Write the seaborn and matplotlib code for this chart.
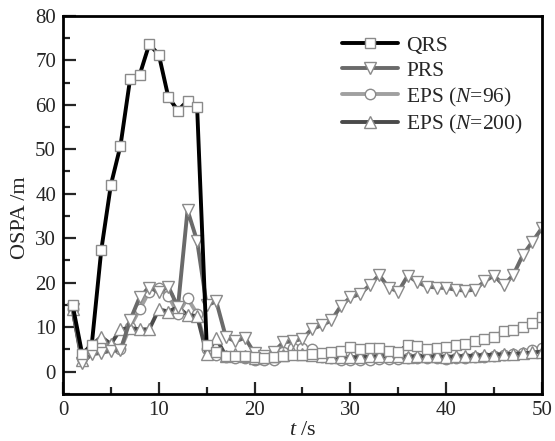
import numpy as np
import pandas as pd
import matplotlib
matplotlib.use("Agg")
import matplotlib.pyplot as plt
import seaborn as sns
from matplotlib.ticker import MultipleLocator

t = list(range(1, 51))
qrs = [15, 4, 6, 27.4, 42, 50.8, 65.7, 66.7, 73.6, 71.3,
       61.7, 58.7, 60.9, 59.6, 6, 4.5, 3.5, 3.5, 3.5, 3.2,
       3.0, 3.2, 3.5, 3.8, 3.8, 4.0, 4.2, 4.3, 4.7, 5.5,
       5.0, 5.2, 5.2, 4.7, 4.4, 6.0, 5.7, 5.0, 5.3, 5.6,
       5.9, 6.1, 6.8, 7.4, 7.8, 9.1, 9.4, 10.0, 10.9, 12.2]
prs = [14, 2, 3.9, 4.2, 4.7, 4.8, 11.5, 16.7, 18.9, 17.9,
       19.1, 14.5, 36.3, 29.4, 14.9, 15.8, 7.8, 6.8, 7.6, 4.1,
       3.5, 4.4, 6.6, 6.8, 7.4, 9.6, 10.4, 11.5, 14.7, 16.7,
       17.4, 19.4, 21.7, 18.9, 18.0, 21.6, 20.1, 19.1, 18.9, 18.8,
       18.4, 18.2, 18.4, 20.3, 21.6, 19.4, 21.7, 26.2, 29.2, 32.3]
eps96 = [14, 3, 5.5, 5.5, 5.5, 5, 10, 14, 18, 18.7,
         17, 13, 16.5, 13, 5, 3.8, 3.2, 3, 3, 2.5,
         2.5, 2.7, 4.5, 5.3, 5.2, 5.0, 3.2, 3.0, 2.5, 2.5,
         2.6, 2.6, 2.8, 2.8, 2.8, 3.0, 3.1, 3.0, 3.0, 2.9,
         3.0, 3.0, 3.2, 3.3, 3.5, 3.7, 3.9, 4.2, 4.8, 5.4]
eps200 = [14, 2.5, 6, 7.8, 6.2, 9.5, 9.8, 9.5, 9.5, 14,
          13.5, 14.5, 12.7, 12.5, 4, 7.5, 3.5, 4, 3.5, 3,
          3.3, 3.5, 3.8, 4.2, 4, 3.8, 3.5, 3.3, 3.2, 3.2,
          3.3, 3.4, 3.5, 3.5, 3.4, 3.3, 3.5, 3.5, 3.5, 3.3,
          3.4, 3.5, 3.6, 3.7, 3.8, 3.9, 4.0, 4.1, 4.3, 4.5]

labels = ["QRS", "PRS", "EPS ($N$=96)", "EPS ($N$=200)"]

sns.set_style("ticks")
plt.rcParams["font.family"] = ["Liberation Serif", "DejaVu Serif"]
plt.rcParams["mathtext.fontset"] = "custom"
plt.rcParams["mathtext.rm"] = "Liberation Serif"
plt.rcParams["mathtext.it"] = "Liberation Serif:italic"

fig = plt.figure(figsize=(5.55, 4.41), dpi=100)
ax = fig.add_axes([0.1135, 0.107, 0.863, 0.857])

series = [
    (eps96, labels[2], "#a0a0a0", "o", 7.5),
    (eps200, labels[3], "#4a4a4a", "^", 8.5),
    (prs, labels[1], "#6a6a6a", "v", 8.5),
    (qrs, labels[0], "#000000", "s", 6.8),
]
for vals, lab, col, mk, ms in series:
    df = pd.DataFrame({"t": t, "v": vals})
    sns.lineplot(data=df, x="t", y="v", ax=ax, color=col, lw=2.8,
                 marker=mk, markersize=ms, markerfacecolor="white",
                 markeredgecolor="#8a8a8a", markeredgewidth=1.0,
                 label=lab)
    sns.scatterplot(data=df, x="t", y="v", ax=ax, color="#777777", s=1.5,
                    linewidth=0, legend=False)

h, l = ax.get_legend_handles_labels()
order = [l.index(x) for x in labels]
leg = ax.legend([h[i] for i in order], [l[i] for i in order], loc="upper left",
                bbox_to_anchor=(0.582, 0.947), frameon=False, fontsize=15.5,
                handlelength=2.6, handletextpad=0.4, labelspacing=0.22,
                borderaxespad=0, borderpad=0)

ax.set_xlim(0, 50)
ax.set_ylim(-5, 80)
ax.xaxis.set_major_locator(MultipleLocator(10))
ax.xaxis.set_minor_locator(MultipleLocator(5))
ax.yaxis.set_major_locator(MultipleLocator(10))
ax.yaxis.set_minor_locator(MultipleLocator(5))
ax.tick_params(which="major", direction="in", length=9, width=1.6, labelsize=15,
               top=False, right=False, pad=5)
ax.tick_params(which="minor", direction="in", length=5, width=1.6,
               top=False, right=False)
for s in ax.spines.values():
    s.set_visible(True)
    s.set_linewidth(2.0)
    s.set_color("black")

ax.set_xlabel("$t$ /s", fontsize=16, labelpad=1)
ax.set_ylabel("OSPA /m", fontsize=16)
ax.yaxis.set_label_coords(-0.068, 0.465)

fig.savefig("out.png", dpi=100)
